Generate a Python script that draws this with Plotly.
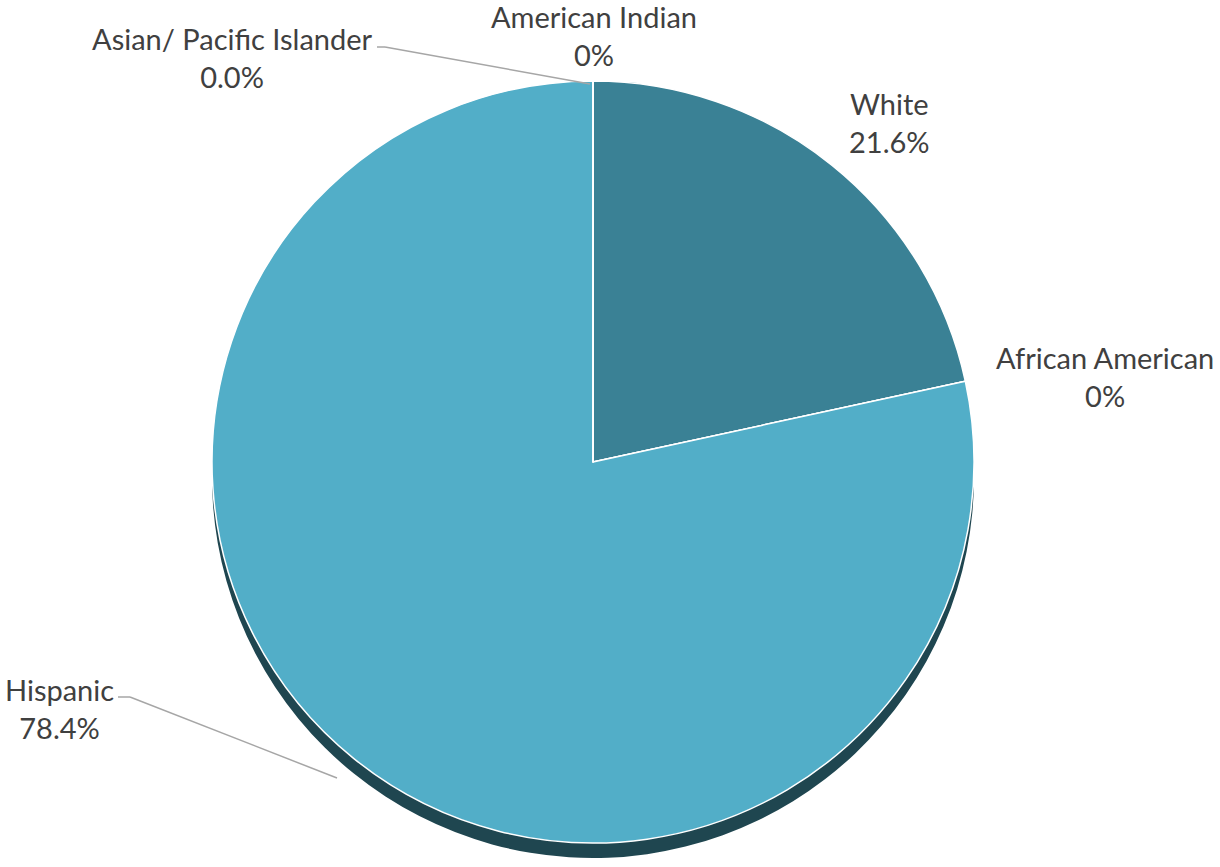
import plotly.graph_objects as go

# ---- data ----
categories = ["White", "African American", "Hispanic", "Asian/ Pacific Islander", "American Indian"]
values = [21.6, 0.0, 78.4, 0.0, 0.0]
pct_labels = ["21.6%", "0%", "78.4%", "0.0%", "0%"]
slice_colors = ["#3a8195", "#4aa8c1", "#52aec8", "#52aec8", "#52aec8"]

W, H = 1220, 867

def px(x):
    return x / W

def py(y):
    return 1 - y / H

# pie geometry (pixels in the screenshot)
cx, cy, r = 593, 462, 381
shadow_dy = 15

fig = go.Figure()

# shadow / depth of the pie
fig.add_trace(go.Pie(
    labels=categories, values=values, sort=False, direction="clockwise", rotation=0,
    marker=dict(colors=["#1f4650"] * len(values), line=dict(width=0)),
    textinfo="none", hoverinfo="skip", showlegend=False,
    domain=dict(x=[px(cx - r), px(cx + r)], y=[py(cy + r + shadow_dy), py(cy - r + shadow_dy)]),
))

# main pie
fig.add_trace(go.Pie(
    labels=categories, values=values, sort=False, direction="clockwise", rotation=0,
    marker=dict(colors=slice_colors, line=dict(color="white", width=1.5)),
    textinfo="none", showlegend=False,
    domain=dict(x=[px(cx - r), px(cx + r)], y=[py(cy + r), py(cy - r)]),
))

# label positions (pixel centres)
label_pos = {
    "White": (889, 122),
    "African American": (1105, 376),
    "Hispanic": (59, 708),
    "Asian/ Pacific Islander": (232, 58),
    "American Indian": (594, 36),
}

annotations = []
for cat, pct in zip(categories, pct_labels):
    x, y = label_pos[cat]
    annotations.append(dict(
        x=px(x), y=py(y), xref="paper", yref="paper",
        text=f"{cat}<br>{pct}", showarrow=False,
        xanchor="center", yanchor="middle", align="center",
        font=dict(family="Lato, Open Sans, sans-serif", size=29, color="#404040"),
    ))

# leader lines
leaders = [
    [(377, 47), (385, 47), (590, 84)],
    [(118, 697), (130, 697), (337, 778)],
]
shapes = []
for pts in leaders:
    for (x0, y0), (x1, y1) in zip(pts[:-1], pts[1:]):
        shapes.append(dict(type="line", xref="paper", yref="paper",
                           x0=px(x0), y0=py(y0), x1=px(x1), y1=py(y1),
                           line=dict(color="#a6a6a6", width=1.5)))

fig.update_layout(
    width=W, height=H,
    margin=dict(l=0, r=0, t=0, b=0),
    paper_bgcolor="white", plot_bgcolor="white",
    annotations=annotations, shapes=shapes,
)

fig.write_html(
    "out.html",
    config={"displayModeBar": False},
    post_script="document.body.style.margin='0px';document.body.style.overflow='hidden';",
)
